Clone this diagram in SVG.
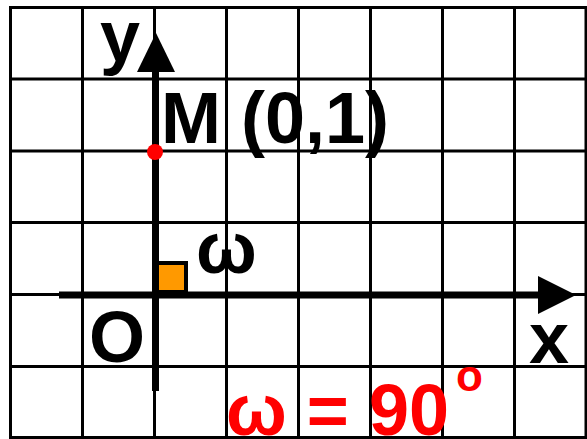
<svg xmlns="http://www.w3.org/2000/svg" width="587" height="439" viewBox="0 0 587 439">
<style>
.grid line{stroke:#000;stroke-width:3}
.axis{stroke:#000;stroke-width:7}
.lbl{font-family:"Liberation Sans",Arial,sans-serif;font-weight:bold;font-size:72px;fill:#000}
.red{fill:#ff0000}
</style>
<rect width="587" height="439" fill="#fff"/>
<g id="grid" class="grid">
<line x1="10.5" y1="7.5" x2="10.5" y2="437.5"/>
<line x1="82.5" y1="7.5" x2="82.5" y2="437.5"/>
<line x1="154.5" y1="7.5" x2="154.5" y2="437.5"/>
<line x1="226.5" y1="7.5" x2="226.5" y2="437.5"/>
<line x1="298.5" y1="7.5" x2="298.5" y2="437.5"/>
<line x1="370.5" y1="7.5" x2="370.5" y2="437.5"/>
<line x1="442.5" y1="7.5" x2="442.5" y2="437.5"/>
<line x1="514.5" y1="7.5" x2="514.5" y2="437.5"/>
<line x1="586" y1="7.5" x2="586" y2="437.5"/>
<line x1="9" y1="7.5" x2="587" y2="7.5"/>
<line x1="9" y1="79" x2="587" y2="79"/>
<line x1="9" y1="151" x2="587" y2="151"/>
<line x1="9" y1="222.5" x2="587" y2="222.5"/>
<line x1="9" y1="294.5" x2="587" y2="294.5"/>
<line x1="9" y1="366.5" x2="587" y2="366.5"/>
<line x1="9" y1="437.5" x2="587" y2="437.5"/>
</g>
<g id="connectors">
<line class="axis" x1="59" y1="295" x2="540" y2="295"/>
<polygon points="538,276 576,295 538,314" fill="#000"/>
<line class="axis" x1="155.5" y1="391" x2="155.5" y2="70"/>
<polygon points="137,72 156,33 175,72" fill="#000"/>
</g>
<g id="right-angle">
<rect x="157" y="263" width="29" height="29" fill="#ff9900" stroke="#000" stroke-width="4"/>
</g>
<g id="point-M">
<circle cx="155" cy="152" r="8" fill="#ff0000"/>
<text class="lbl" x="161" y="143">M (0,1)</text>
</g>
<g id="labels">
<text class="lbl" x="100" y="61">y</text>
<text class="lbl" x="529" y="363">x</text>
<text class="lbl" x="89" y="362">O</text>
<text class="lbl" x="196" y="273">ω</text>
</g>
<g id="angle-value">
<text class="lbl red" x="226" y="435">ω = 90</text>
<text class="lbl red" x="456" y="391" style="font-size:44px">o</text>
</g>
</svg>
